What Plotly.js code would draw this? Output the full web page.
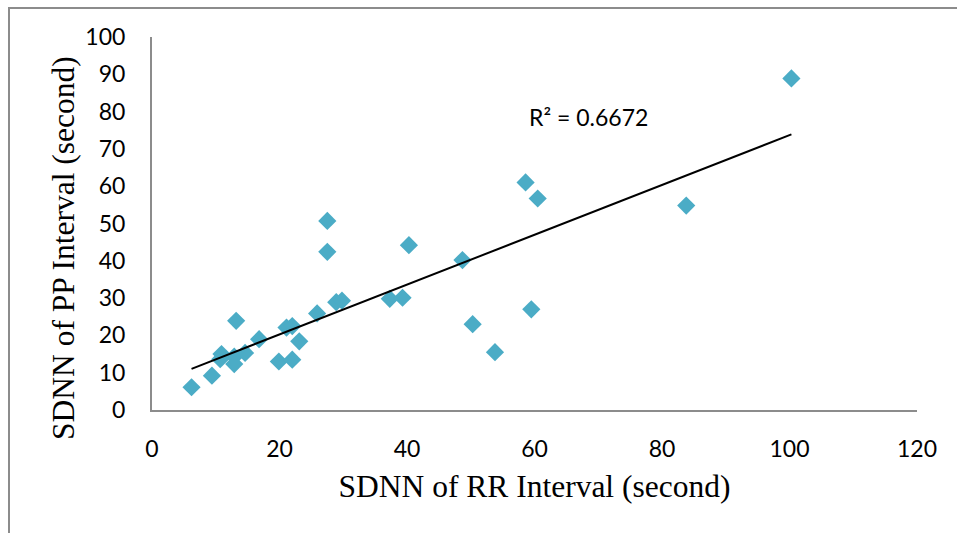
<!DOCTYPE html>
<html>
<head>
<meta charset="utf-8">
<script src="https://cdn.plot.ly/plotly-3.0.1.min.js"></script>
<style>
html,body{margin:0;padding:0;background:#fff;}
#wrap{position:relative;width:957px;height:533px;overflow:hidden;}
#frame{position:absolute;left:8px;top:7px;width:960px;height:540px;border-top:2px solid #8c8c8c;border-left:2px solid #8c8c8c;box-sizing:border-box;pointer-events:none;z-index:5;}
#chart{position:absolute;left:0;top:0;width:957px;height:533px;}
</style>
</head>
<body>
<div id="wrap"><div id="chart"></div><div id="frame"></div></div>
<script>
const rrSDNN = [6.2, 9.4, 10.9, 10.7, 12.9, 12.9, 14.6, 13.2, 16.8, 19.9, 22.0, 21.1, 22.0, 23.1, 25.9, 27.5, 27.5, 28.9, 29.8, 37.3, 39.3, 40.3, 48.7, 50.3, 53.8, 59.5, 58.6, 60.5, 83.8, 100.3];
const ppSDNN = [6.1, 9.2, 15.0, 13.6, 14.3, 12.3, 15.3, 23.9, 19.0, 13.0, 13.5, 22.1, 22.5, 18.4, 25.9, 42.4, 50.7, 28.9, 29.3, 29.8, 30.1, 44.2, 40.2, 23.0, 15.5, 27.0, 61.0, 56.7, 54.8, 88.9];
const xTicks = [0, 20, 40, 60, 80, 100, 120];
const yTicks = [0, 10, 20, 30, 40, 50, 60, 70, 80, 90, 100];
const r2Label = "R² = 0.6672";
const xTitle = "SDNN of RR Interval (second)";
const yTitle = "SDNN of PP Interval (second)";

// least-squares trendline from the data
const n = rrSDNN.length;
const mx = rrSDNN.reduce((a,b)=>a+b,0)/n;
const my = ppSDNN.reduce((a,b)=>a+b,0)/n;
let sxy=0, sxx=0;
for (let i=0;i<n;i++){ sxy+=(rrSDNN[i]-mx)*(ppSDNN[i]-my); sxx+=(rrSDNN[i]-mx)**2; }
const slope = sxy/sxx, icpt = my - slope*mx;
const xmin = Math.min(...rrSDNN), xmax = Math.max(...rrSDNN);

const serif = '"Liberation Serif", "Times New Roman", serif';
const sans = 'Lato, "Liberation Sans", sans-serif';

const traces = [
  {x: rrSDNN, y: ppSDNN, type:'scatter', mode:'markers',
   marker:{symbol:'diamond', size:14, color:'#4BACC6', line:{width:0}}, showlegend:false, hoverinfo:'skip'},
  {x:[xmin,xmax], y:[icpt+slope*xmin, icpt+slope*xmax], type:'scatter', mode:'lines',
   line:{color:'#000', width:2}, showlegend:false, hoverinfo:'skip'}
];

const layout = {
  width:957, height:533,
  margin:{l:152, r:40, t:37, b:123},
  paper_bgcolor:'#fff', plot_bgcolor:'#fff',
  font:{family:sans, size:23, color:'#000'},
  xaxis:{range:[0,120], tickvals:xTicks, ticktext:xTicks.map(String), showgrid:false, zeroline:false,
    showline:true, linecolor:'#8c8c8c', linewidth:2, ticks:'', ticklabelstandoff:17,
    title:{text:xTitle, font:{family:serif, size:31.5}, standoff:14}},
  yaxis:{range:[0,100], tickvals:yTicks, ticktext:yTicks.map(String), showgrid:false, zeroline:false,
    showline:true, linecolor:'#8c8c8c', linewidth:2, ticks:'', ticklabelstandoff:20},
  annotations:[
    {x:68.5, y:78.5, xref:'x', yref:'y', text:r2Label, showarrow:false,
     font:{family:sans, size:23, color:'#000'}},
    {x:-0.116, y:0.435, xref:'paper', yref:'paper', text:yTitle, textangle:-90, showarrow:false,
     xanchor:'center', yanchor:'middle', font:{family:serif, size:31.5, color:'#000'}}
  ]
};
Plotly.newPlot('chart', traces, layout, {displayModeBar:false, staticPlot:true});
</script>
</body>
</html>
